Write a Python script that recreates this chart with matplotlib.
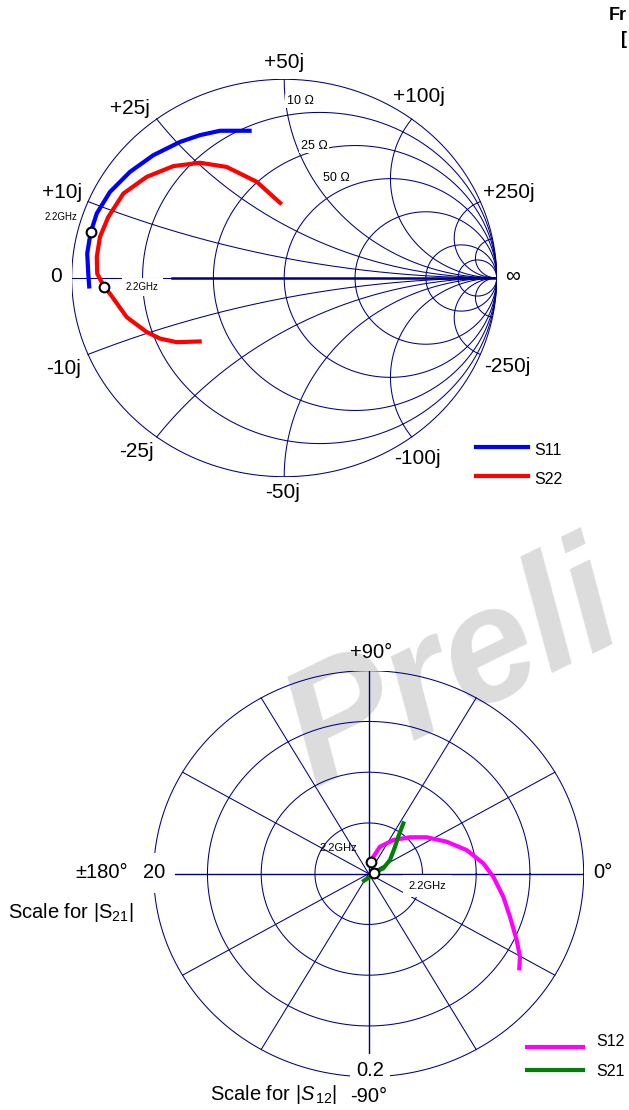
import numpy as np
import matplotlib.pyplot as plt
from matplotlib.lines import Line2D

plt.rcParams['font.family'] = ['Liberation Sans', 'DejaVu Sans']
plt.rcParams['mathtext.fontset'] = 'custom'
plt.rcParams['mathtext.rm'] = 'Liberation Sans'
plt.rcParams['mathtext.it'] = 'Liberation Sans:italic'

# ==========================================
# DATA
# ==========================================

# Smith chart, reflection coefficient (real / imag)
s11_re = [-0.917, -0.922, -0.927, -0.911, -0.882, -0.820, -0.726, -0.616, -0.490, -0.396, -0.302, -0.153]
s11_im = [-0.053, 0.022, 0.123, 0.229, 0.325, 0.433, 0.534, 0.618, 0.685, 0.719, 0.741, 0.741]
s11_marker = 3

s22_re = [-0.012, -0.129, -0.271, -0.396, -0.522, -0.647, -0.757, -0.828, -0.867, -0.882, -0.880,
          -0.847, -0.820, -0.741, -0.647, -0.584, -0.506, -0.388]
s22_im = [0.371, 0.484, 0.559, 0.580, 0.563, 0.509, 0.425, 0.307, 0.207, 0.106, 0.022,
          -0.045, -0.079, -0.197, -0.272, -0.305, -0.323, -0.319]
s22_marker = 11

r_circles = [0.2, 0.5, 1, 2, 5, 10]
x_arcs = [0.2, 0.5, 1, 2, 5, 10]

# polar chart (real / imag)
s12_re = [0.0021, 0.0043, 0.0105, 0.0229, 0.0384, 0.0540, 0.0725, 0.0911, 0.1066, 0.1159,
          0.1252, 0.1314, 0.1376, 0.1407, 0.1401]
s12_im = [0.0112, 0.0167, 0.0266, 0.0332, 0.0359, 0.0359, 0.0315, 0.0233, 0.0102, -0.0030,
          -0.0227, -0.0424, -0.0653, -0.0818, -0.0932]
s12_marker = 0
s12_scale = 0.2

s21_re = [-0.44, 0.12, 0.52, 1.36, 1.98, 2.45, 2.75, 3.22]
s21_im = [-0.69, -0.30, 0.10, 0.53, 1.35, 2.66, 3.64, 4.96]
s21_marker = 2
s21_scale = 20

n_rings = 4
spoke_angles = [30, 60, 120, 150, 210, 240, 300, 330]

# ==========================================
# SETTINGS
# ==========================================

W, H = 629, 1110
GRID = '#000080'
C_S11, C_S22, C_S12, C_S21 = '#0000ff', '#ff0000', '#ff00ff', '#008000'


def fx(px):
    return px / W


def fy(py):
    return 1 - py / H


def label(px, py, s, size=15, **kw):
    fig.text(fx(px), fy(py), s, fontsize=size, ha=kw.pop('ha', 'center'),
             va=kw.pop('va', 'center'), **kw)


def white(pad):
    return dict(facecolor='white', edgecolor='none', boxstyle='square,pad=%s' % pad)


fig = plt.figure(figsize=(W / 100, H / 100), dpi=100)

# watermark behind everything
bg = fig.add_axes([0, 0, 1, 1], zorder=-1)
bg.set_xlim(0, W)
bg.set_ylim(H, 0)
bg.axis('off')
bg.text(314, 788, 'Preli', fontsize=117, fontweight='bold', fontstyle='italic',
        color='#dcdcdc', rotation=26, rotation_mode='anchor', ha='left', va='baseline')

# ==========================================
# SMITH CHART
# ==========================================

sx0, sx1, sy0, sy1 = 71.7, 496.7, 79.3, 476.7
ax = fig.add_axes([fx(sx0), fy(sy1), (sx1 - sx0) / W, (sy1 - sy0) / H])
ax.set_xlim(-1, 1)
ax.set_ylim(-1, 1)
ax.axis('off')

t = np.linspace(-np.pi / 2 + 1e-4, np.pi / 2 - 1e-4, 2000)
g = lambda z: (z - 1) / (z + 1)
for r in [0] + r_circles:
    gg = g(r + 1j * np.tan(t))
    ax.plot(gg.real, gg.imag, color=GRID, lw=0.75)
rr = np.concatenate([np.linspace(0, 5, 800), np.logspace(np.log10(5), 5, 800)])
for xv in x_arcs:
    for sgn in (1, -1):
        gg = g(rr + 1j * sgn * xv)
        ax.plot(gg.real, gg.imag, color=GRID, lw=0.75)
ax.plot([-1, 1], [0, 0], color=GRID, lw=0.75)
ax.plot([-0.53, 1], [0, 0], color=GRID, lw=1.8)

ax.plot(s11_re, s11_im, color=C_S11, lw=3, solid_capstyle='butt')
ax.plot(s22_re, s22_im, color=C_S22, lw=3, solid_capstyle='butt')
ax.plot(s11_re[s11_marker], s11_im[s11_marker], 'o', ms=7, mfc='white', mec='black', mew=1.5)
ax.plot(s22_re[s22_marker], s22_im[s22_marker], 'o', ms=7, mfc='white', mec='black', mew=1.5)

for px, py, s in [(284, 62, '+50j'), (130, 108, '+25j'), (419, 96, '+100j'), (62, 193, '+10j'),
                  (509, 193, '+250j'), (56, 277, '0'), (513, 276, '∞'), (64, 369, '-10j'),
                  (136, 451, '-25j'), (283, 492, '-50j'), (417, 459, '-100j'), (507, 367, '-250j')]:
    label(px, py, s, 15)

for px, py, s in [(300, 101, '10 Ω'), (314, 146, '25 Ω'), (336, 178, '50 Ω')]:
    label(px, py, s, 9, bbox=white(0.1))

label(61, 217, '2.2GHz', 7)
label(142.5, 287, '2.2GHz', 7, bbox=white(0.45))

# legend
for py, c, s in [(447, C_S11, 'S11'), (476, C_S22, 'S22')]:
    fig.add_artist(Line2D([fx(476), fx(528)], [fy(py), fy(py)], color=c, lw=3))
    label(534, py + 3, s, 11.5, ha='left')

# ==========================================
# POLAR CHART
# ==========================================

cx, cy, rx, ry = 368.7, 873.7, 215, 203
pax = fig.add_axes([fx(cx - rx), fy(cy + ry), 2 * rx / W, 2 * ry / H])
pax.set_xlim(-1, 1)
pax.set_ylim(-1, 1)
pax.axis('off')

th = np.linspace(0, 2 * np.pi, 600)
for k in range(1, n_rings + 1):
    pax.plot(k / n_rings * np.cos(th), k / n_rings * np.sin(th), color=GRID, lw=0.75)
for a in spoke_angles:
    pax.plot([0, np.cos(np.radians(a))], [0, np.sin(np.radians(a))], color=GRID, lw=0.75)
pax.plot([-1, 1], [0, 0], color=GRID, lw=1.0)
pax.plot([0, 0], [-1, 1], color=GRID, lw=1.0)

s12_x = np.array(s12_re) / s12_scale
s12_y = np.array(s12_im) / s12_scale
s21_x = np.array(s21_re) / s21_scale
s21_y = np.array(s21_im) / s21_scale
pax.plot(s12_x, s12_y, color=C_S12, lw=3)
pax.plot(s21_x, s21_y, color=C_S21, lw=3)
pax.plot(s12_x[s12_marker], s12_y[s12_marker], 'o', ms=7, mfc='white', mec='black', mew=1.5)
pax.plot(s21_x[s21_marker], s21_y[s21_marker], 'o', ms=7, mfc='white', mec='black', mew=1.5)

label(371, 652, '+90°', 14.5)
label(102, 872, '±180°', 14.5)
label(603, 873, '0°', 14.5)
label(154, 873, '20', 14.5, bbox=white(0.5))
label(370, 1070, '0.2', 14.5, bbox=white(0.3))
label(369, 1096, '-90°', 14.5)
label(8, 912, 'Scale for |S$_{21}$|', 14.5, ha='left')
label(210, 1094, r'Scale for |$\mathit{S}_{\,12}$|', 14.5, ha='left')

label(338, 848, '2.2GHz', 8)
label(427.5, 886, '2.2GHz', 8, bbox=white(0.5))

for py, ty, c, s in [(1047, 1042, C_S12, 'S12'), (1070, 1072, C_S21, 'S21')]:
    fig.add_artist(Line2D([fx(527), fx(583)], [fy(py), fy(py)], color=c, lw=3))
    label(596, ty, s, 11.5, ha='left')

# header fragments at top right
label(609, 15, 'Fr', 13, ha='left', fontweight='bold')
label(621, 40, '[', 13, ha='left', fontweight='bold')

fig.savefig('out.png', dpi=100)
